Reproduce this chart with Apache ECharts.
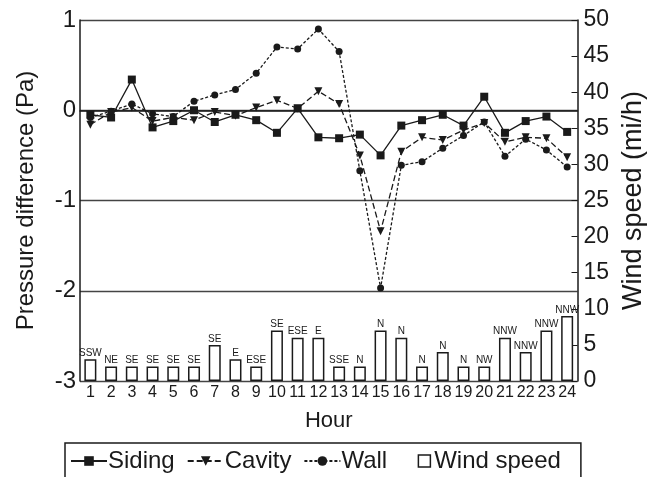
<!DOCTYPE html>
<html>
<head>
<meta charset="utf-8">
<script src="https://cdn.jsdelivr.net/npm/echarts@6/dist/echarts.min.js"></script>
<style>html,body{margin:0;padding:0;background:#fff}#c{width:655px;height:477px}</style>
</head>
<body>
<div id="c"></div>
<script>
const hours = ['1','2','3','4','5','6','7','8','9','10','11','12','13','14','15','16','17','18','19','20','21','22','23','24'];
const siding = [-0.05,-0.08,0.34,-0.19,-0.12,0.0,-0.13,-0.05,-0.11,-0.25,0.02,-0.30,-0.31,-0.27,-0.50,-0.17,-0.11,-0.05,-0.17,0.15,-0.25,-0.12,-0.07,-0.24];
const cavity = [-0.16,-0.02,0.03,-0.12,-0.08,-0.11,-0.02,-0.06,0.03,0.11,0.02,0.21,0.07,-0.50,-1.34,-0.46,-0.30,-0.33,-0.22,-0.14,-0.35,-0.30,-0.31,-0.52];
const wall = [-0.08,-0.01,0.07,-0.04,-0.07,0.10,0.17,0.23,0.41,0.70,0.68,0.90,0.65,-0.67,-1.97,-0.61,-0.57,-0.42,-0.28,-0.13,-0.51,-0.32,-0.44,-0.63];
const windSpeed = [3,2,2,2,2,2,5,3,2,7,6,6,2,2,7,6,2,4,2,2,6,4,7,9];
const windDir = ['SSW','NE','SE','SE','SE','SE','SE','E','ESE','SE','ESE','E','SSE','N','N','N','N','N','N','NW','NNW','NNW','NNW','NNW'];
const pressTicks = [-3,-2,-1,0,1];
const windTicks = [0,50,5];

const FONT = 'Liberation Sans, Arial, sans-serif';
const ink = '#1a1a1a';
const chart = echarts.init(document.getElementById('c'));
const lineBase = {
  type: 'line', yAxisIndex: 0, z: 5, symbolSize: 7,
  itemStyle: { color: ink },
};
chart.setOption({
  animation: false,
  backgroundColor: '#fff',
  textStyle: { fontFamily: FONT, color: ink },
  grid: { left: 80, right: 77, top: 20, bottom: 96 },
  legend: {
    left: 65, top: 443,
    padding: [6, 20, 8, 5],
    borderColor: ink, borderWidth: 1.5,
    itemWidth: 36, itemHeight: 12, itemGap: 12,
    textStyle: { fontSize: 24, color: ink, fontFamily: FONT, padding: [0, 0, 0, -4] },
    data: [
      { name: 'Siding' },
      { name: 'Cavity' },
      { name: 'Wall' },
      { name: 'Wind speed', icon: 'path://M0,6 L0.01,6 M20,0 L33,0 L33,13 L20,13 Z', itemStyle: { color: '#fff', borderColor: ink, borderWidth: 1.5, borderCap: 'butt' } }
    ]
  },
  xAxis: {
    type: 'category', data: hours,
    name: 'Hour', nameLocation: 'middle', nameGap: 29,
    nameTextStyle: { fontSize: 22, color: ink },
    axisLine: { lineStyle: { color: ink, width: 1.5 } },
    axisTick: { alignWithLabel: true, length: 4, lineStyle: { color: ink } },
    axisLabel: { fontSize: 16, color: ink, margin: 4, interval: 0 }
  },
  yAxis: [
    {
      type: 'value', min: pressTicks[0], max: pressTicks[pressTicks.length-1], interval: 1,
      name: 'Pressure difference (Pa)', nameLocation: 'middle', nameGap: 42,
      nameTextStyle: { fontSize: 24, color: ink },
      axisLine: { show: true, lineStyle: { color: ink, width: 1.5 } },
      axisTick: { show: false },
      axisLabel: { fontSize: 24, color: ink, margin: 4 },
      splitLine: { show: true, lineStyle: { color: '#444', width: 1.3 } }
    },
    {
      type: 'value', min: windTicks[0], max: windTicks[1], interval: windTicks[2],
      name: 'Wind speed (mi/h)', nameLocation: 'middle', nameGap: 29,
      nameTextStyle: { fontSize: 27, color: ink },
      axisLine: { show: true, lineStyle: { color: ink, width: 1.5 } },
      axisTick: { show: true, inside: true, length: 6, lineStyle: { color: ink } },
      axisLabel: { fontSize: 23, color: ink, margin: 6 },
      splitLine: { show: false }
    }
  ],
  series: [
    {
      name: 'Wind speed', type: 'bar', yAxisIndex: 1, z: 2, barWidth: 12,
      data: windSpeed,
      itemStyle: { color: '#fff', borderColor: ink, borderWidth: 1.5 },
      label: {
        show: true, position: 'top', distance: 1,
        fontSize: 10, fontFamily: 'Liberation Sans Narrow, Arial Narrow, sans-serif', color: ink,
        formatter: p => windDir[p.dataIndex]
      }
    },
    Object.assign({}, lineBase, {
      name: 'Siding', data: siding, symbol: 'rect', symbolSize: 8,
      lineStyle: { color: ink, width: 1.3, type: 'solid' }
    }),
    Object.assign({}, lineBase, {
      name: 'Cavity', data: cavity, symbol: 'triangle', symbolRotate: 180, symbolSize: 8,
      lineStyle: { color: ink, width: 1.3, type: [6, 3] }
    }),
    Object.assign({}, lineBase, {
      name: 'Wall', data: wall, symbol: 'circle', symbolSize: 7,
      lineStyle: { color: ink, width: 1.3, type: [3, 2] }
    })
  ]
});
</script>
</body>
</html>
